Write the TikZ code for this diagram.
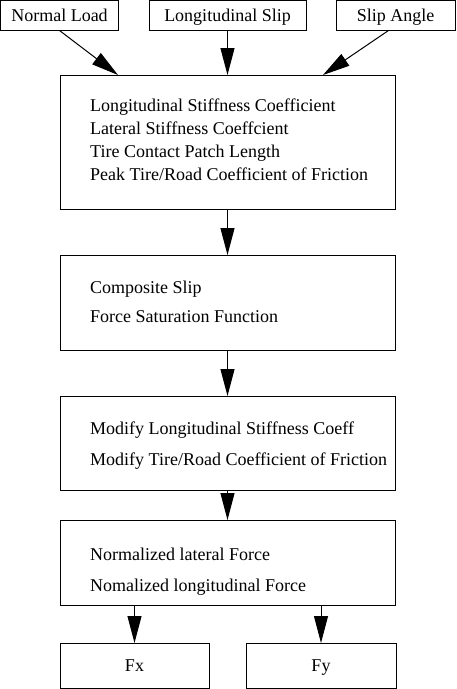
\documentclass[tikz,border=0pt]{standalone}
\usepackage{fontspec}
\setmainfont{Liberation Serif}
\usetikzlibrary{arrows.meta}
\begin{document}
\begin{tikzpicture}[x=1pt,y=-1pt,
  box/.style={draw,line width=1pt,inner sep=0pt,outer sep=0pt},
  tbox/.style={box,font=\fontsize{18}{21}\selectfont,text height=12pt,text depth=0pt},
  lbl/.style={font=\fontsize{18}{21}\selectfont,inner sep=0pt,anchor=base west},
  arr/.style={line width=1pt,-{Triangle[length=27pt,width=14pt]}}]
\useasboundingbox (0,0) rectangle (456,689);
% top boxes
\node[tbox,minimum width=118pt,minimum height=30pt] (nl) at (59.5,15.5) {Normal Load};
\node[tbox,minimum width=157pt,minimum height=30pt] (ls) at (227.5,15.5) {Longitudinal Slip};
\node[tbox,minimum width=119pt,minimum height=30pt] (sa) at (395.5,15.5) {Slip Angle};
% main boxes
\node[box,minimum width=335pt,minimum height=134pt] (b1) at (227.5,142) {};
\node[box,minimum width=335pt,minimum height=95pt] (b2) at (227.5,302.5) {};
\node[box,minimum width=335pt,minimum height=94pt] (b3) at (227.5,443) {};
\node[box,minimum width=335pt,minimum height=85pt] (b4) at (227.5,562.5) {};
\node[tbox,minimum width=149pt,minimum height=45pt] (fx) at (134.5,665.5) {Fx};
\node[tbox,minimum width=150pt,minimum height=45pt] (fy) at (321,665.5) {Fy};
% texts
\node[lbl] (t11) at (90,111) {Longitudinal Stiffness Coefficient};
\node[lbl] (t12) at (90,134) {Lateral Stiffness Coeffcient};
\node[lbl] (t13) at (90,157) {Tire Contact Patch Length};
\node[lbl] (t14) at (90,180) {Peak Tire/Road Coefficient of Friction};
\node[lbl] (t21) at (90,293) {Composite Slip};
\node[lbl] (t22) at (90,322) {Force Saturation Function};
\node[lbl] (t31) at (90,434) {Modify Longitudinal Stiffness Coeff};
\node[lbl] (t32) at (90,465) {Modify Tire/Road Coefficient of Friction};
\node[lbl] (t41) at (90,560) {Normalized lateral Force};
\node[lbl] (t42) at (90,591) {Nomalized longitudinal Force};
% arrows
\coordinate (e1) at (118,75);
\coordinate (e3) at (323,75);
\draw[arr] (nl.south) -- (e1);
\draw[arr] (ls.south) -- (ls.south |- b1.north);
\draw[arr] ([xshift=-7pt]sa.south) -- (e3);
\draw[arr] (b1.south) -- (b2.north);
\draw[arr] (b2.south) -- (b3.north);
\draw[arr] (b3.south) -- (b4.north);
\draw[arr] (b4.south -| fx.north) -- (fx.north);
\draw[arr] (b4.south -| fy.north) -- (fy.north);
\end{tikzpicture}
\end{document}
